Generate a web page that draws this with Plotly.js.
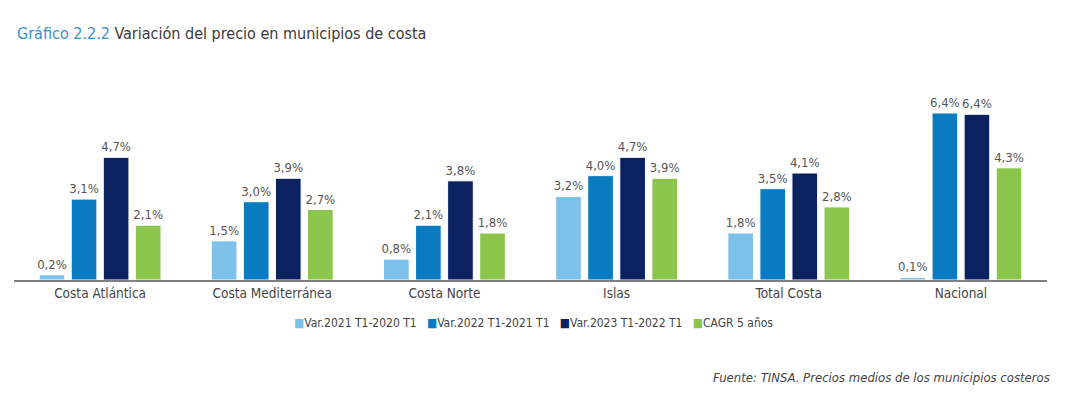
<!DOCTYPE html>
<html><head><meta charset="utf-8">
<script src="https://cdn.plot.ly/plotly-3.0.1.min.js"></script>
<style>body{margin:0;background:#fff}#c{width:1080px;height:398px}</style>
</head><body><div id="c"></div>
<script>
const categories = ['Costa Atlántica','Costa Mediterránea','Costa Norte','Islas','Total Costa','Nacional'];
const seriesNames = ['Var.2021 T1-2020 T1','Var.2022 T1-2021 T1','Var.2023 T1-2022 T1','CAGR 5 años'];
const var2021 = [0.2, 1.5, 0.8, 3.2, 1.8, 0.1];
const var2022 = [3.1, 3.0, 2.1, 4.0, 3.5, 6.4];
const var2023 = [4.7, 3.9, 3.8, 4.7, 4.1, 6.35];
const cagr5 = [2.1, 2.7, 1.8, 3.9, 2.8, 4.3];
const labels2023 = [4.7, 3.9, 3.8, 4.7, 4.1, 6.4];
const colors = ['#7dc1eb','#0a7bc1','#0b2160','#8cc54b'];
const FONT = '"Liberation Sans Narrow","DejaVu Sans Condensed",Arial,sans-serif';

const vals = [var2021, var2022, var2023, cagr5];
const data = vals.map((v,i)=>({
  type:'bar', name:seriesNames[i], x:categories, y:v,
  marker:{color:colors[i], line:{color:'#ffffff', width:1}},
  text: (i===2? labels2023 : v).map(n=>n.toFixed(1).replace('.',',')+'%'),
  texttemplate:'%{text}', textposition:'outside', cliponaxis:false, constraintext:'none',
  textfont:{family:FONT, size:13, color:'#555'},
  hoverinfo:'skip', showlegend:false
}));

const legendText = seriesNames.map((n,i)=>'<span style="color:'+colors[i]+'">■</span>'+n).join('&nbsp;&nbsp;&nbsp;');

const layout = {
  width:1080, height:398,
  margin:{l:14, r:33, t:60, b:118},
  paper_bgcolor:'#fff', plot_bgcolor:'#fff',
  barmode:'group', bargap:0.255, bargroupgap:0.2,
  separators:',.',
  font:{family:FONT, color:'#444'},
  title:{text:'<span style="color:#3b8fd1">Gráfico 2.2.2</span> Variación del precio en municipios de costa',
    x:17/1080, xref:'container', xanchor:'left', y:1-33/398, yref:'container', yanchor:'middle',
    font:{family:FONT, size:16, color:'#3a3a3a'}},
  xaxis:{showline:true, linecolor:'#7f7f7f', linewidth:1.5, ticks:'', showgrid:false,
    tickfont:{family:FONT, size:13.5, color:'#444'}, fixedrange:true},
  yaxis:{range:[0,8.43], visible:false, showgrid:false, zeroline:false, fixedrange:true},
  showlegend:false,
  annotations:[
    {text:legendText, xref:'paper', yref:'paper', x:(533-14)/1033, y:-0.195, xanchor:'center', yanchor:'middle',
     showarrow:false, font:{family:FONT, size:12, color:'#444'}},
    {text:'<i>Fuente: TINSA. Precios medios de los municipios costeros</i>',
    xref:'paper', yref:'paper', x:1.005, y:-0.441, xanchor:'right', yanchor:'middle', showarrow:false,
    font:{family:FONT, size:13, color:'#444'}}]
};
Plotly.newPlot('c', data, layout, {displayModeBar:false, staticPlot:true});
</script></body></html>
